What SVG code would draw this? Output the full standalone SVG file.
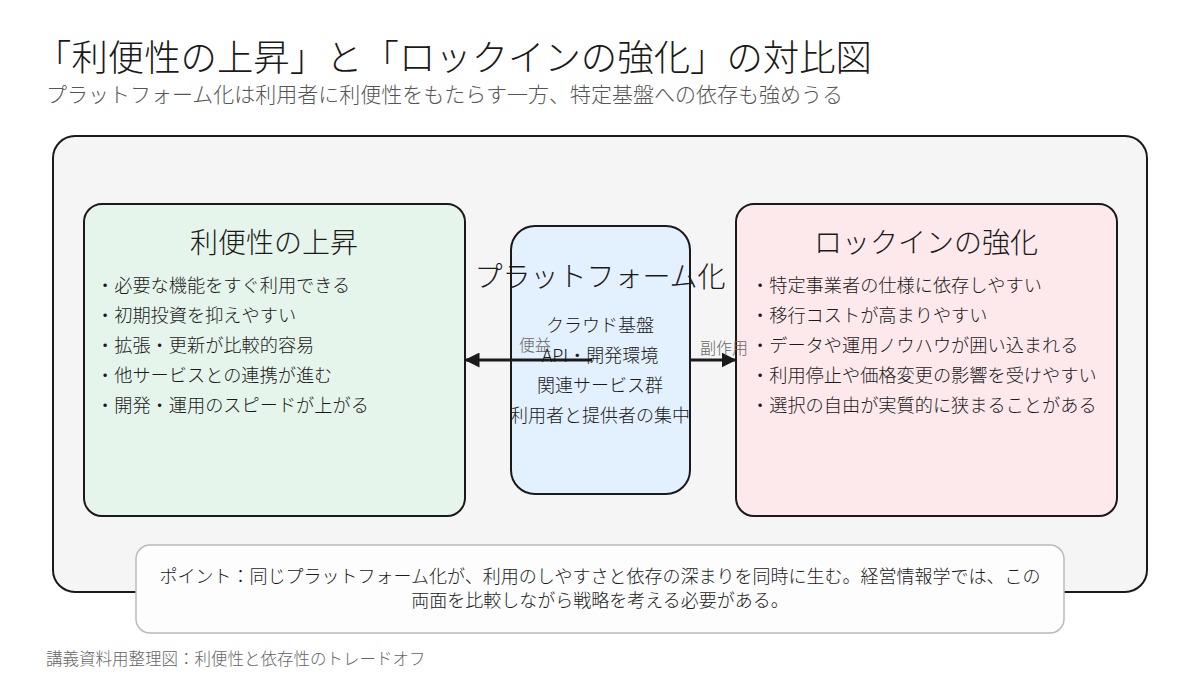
<svg xmlns="http://www.w3.org/2000/svg" width="1200" height="675" viewBox="0 0 1200 675">
<defs>
<style>
text{font-family:"Noto Sans CJK JP","Noto Sans",sans-serif;fill:#1a1a1a;font-weight:300}
.box{stroke:#1a1a1a;stroke-width:2}
.item{font-size:18.2px}
.ttl{font-size:28px;text-anchor:middle}
.mid{font-size:18px;text-anchor:middle}
.lbl{font-size:16px;fill:#666}
.conn{stroke:#1a1a1a;stroke-width:3;fill:none}
</style>
<marker id="ah" viewBox="0 0 10 10" refX="9" refY="5" markerWidth="5" markerHeight="5" orient="auto-start-reverse" markerUnits="strokeWidth">
<path d="M0,0 L10,5 L0,10 z" fill="#1a1a1a"/>
</marker>
</defs>
<rect width="1200" height="675" fill="#ffffff"/>
<g id="title">
<text x="35" y="71" style="font-size:36.4px">「利便性の上昇」と「ロックインの強化」の対比図</text>
<text x="46" y="101.5" style="font-size:21px;fill:#555">プラットフォーム化は利用者に利便性をもたらす一方、特定基盤への依存も強めうる</text>
</g>
<g id="frame">
<rect class="box" x="53" y="136" width="1094" height="456" rx="22" fill="#f5f5f5"/>
</g>
<g id="benefit">
<rect class="box" x="84" y="204" width="381" height="312" rx="18" fill="#e6f5ec"/>
<text class="ttl" x="274" y="253">利便性の上昇</text>
<text class="item" x="96" y="292">・必要な機能をすぐ利用できる</text>
<text class="item" x="96" y="322">・初期投資を抑えやすい</text>
<text class="item" x="96" y="352">・拡張・更新が比較的容易</text>
<text class="item" x="96" y="382">・他サービスとの連携が進む</text>
<text class="item" x="96" y="412">・開発・運用のスピードが上がる</text>
</g>
<g id="lockin">
<rect class="box" x="736" y="204" width="381" height="312" rx="18" fill="#fde9ec"/>
<text class="ttl" x="926" y="253">ロックインの強化</text>
<text class="item" x="751" y="292">・特定事業者の仕様に依存しやすい</text>
<text class="item" x="751" y="322">・移行コストが高まりやすい</text>
<text class="item" x="751" y="352">・データや運用ノウハウが囲い込まれる</text>
<text class="item" x="751" y="382">・利用停止や価格変更の影響を受けやすい</text>
<text class="item" x="751" y="412">・選択の自由が実質的に狭まることがある</text>
</g>
<g id="platform">
<rect class="box" x="511" y="226" width="179" height="268" rx="24" fill="#e3f0fd"/>
</g>
<g id="connectors">
<line class="conn" x1="592" y1="360" x2="466" y2="360" marker-end="url(#ah)"/>
<line class="conn" x1="690" y1="360" x2="735" y2="360" marker-end="url(#ah)"/>
<text class="lbl" x="535" y="351" text-anchor="middle">便益</text>
<text class="lbl" x="724" y="354" text-anchor="middle">副作用</text>
</g>
<g id="platform-text">
<text x="600" y="287" style="font-size:28px;text-anchor:middle">プラットフォーム化</text>
<text class="mid" x="600" y="332">クラウド基盤</text>
<text class="mid" x="600" y="362">API・開発環境</text>
<text class="mid" x="600" y="392">関連サービス群</text>
<text class="mid" x="600" y="422">利用者と提供者の集中</text>
</g>
<g id="note">
<rect x="136" y="545" width="928" height="88" rx="14" fill="#fdfdfd" stroke="#bbbbbb" stroke-width="1.5"/>
<text class="mid" x="600" y="583">ポイント：同じプラットフォーム化が、利用のしやすさと依存の深まりを同時に生む。経営情報学では、この</text>
<text class="mid" x="600" y="607">両面を比較しながら戦略を考える必要がある。</text>
</g>
<g id="footer">
<text x="46" y="665" style="font-size:16.5px;fill:#666">講義資料用整理図：利便性と依存性のトレードオフ</text>
</g>
</svg>
